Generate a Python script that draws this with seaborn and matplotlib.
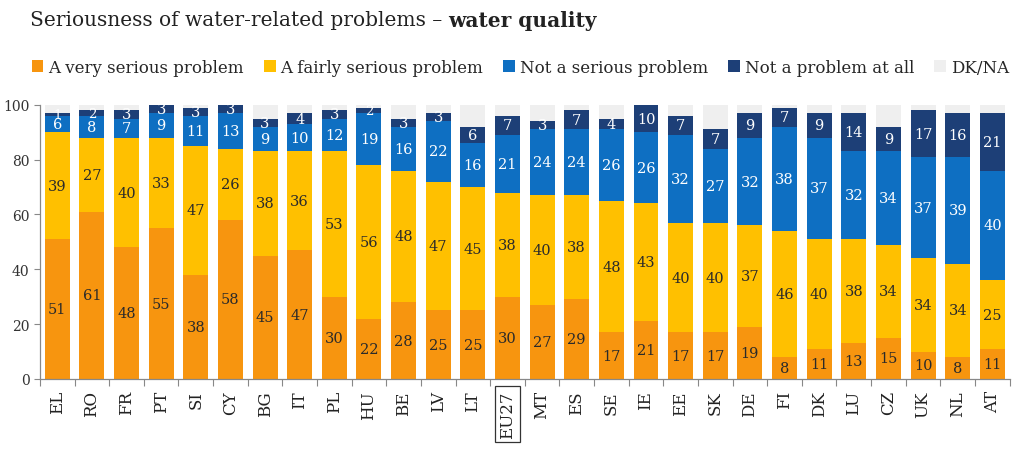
import matplotlib
matplotlib.use("Agg")
import matplotlib.pyplot as plt
import seaborn as sns
import numpy as np
import pandas as pd
from matplotlib.patches import Patch

countries = ["EL", "RO", "FR", "PT", "SI", "CY", "BG", "IT", "PL", "HU", "BE", "LV", "LT", "EU27",
             "MT", "ES", "SE", "IE", "EE", "SK", "DE", "FI", "DK", "LU", "CZ", "UK", "NL", "AT"]
very_serious = [51, 61, 48, 55, 38, 58, 45, 47, 30, 22, 28, 25, 25, 30, 27, 29, 17, 21, 17, 17, 19, 8, 11, 13, 15, 10, 8, 11]
fairly_serious = [39, 27, 40, 33, 47, 26, 38, 36, 53, 56, 48, 47, 45, 38, 40, 38, 48, 43, 40, 40, 37, 46, 40, 38, 34, 34, 34, 25]
not_serious = [6, 8, 7, 9, 11, 13, 9, 10, 12, 19, 16, 22, 16, 21, 24, 24, 26, 26, 32, 27, 32, 38, 37, 32, 34, 37, 39, 40]
not_at_all = [1, 2, 3, 3, 3, 3, 3, 4, 3, 2, 3, 3, 6, 7, 3, 7, 4, 10, 7, 7, 9, 7, 9, 14, 9, 17, 16, 21]
dk_na = [100 - a - b - c - d for a, b, c, d in zip(very_serious, fairly_serious, not_serious, not_at_all)]

series_names = ["A very serious problem", "A fairly serious problem", "Not a serious problem",
                "Not a problem at all", "DK/NA"]
colors = ["#F7950F", "#FFC000", "#0E6FC2", "#1D3F77", "#EFEFEF"]
text_colors = ["#2a2a2a", "#2a2a2a", "white", "white", None]

sns.set_theme(style="white")
plt.rcParams["font.family"] = ["DejaVu Serif"]

series = [very_serious, fairly_serious, not_serious, not_at_all, dk_na]
df = pd.DataFrame({"country": countries})
cum = np.zeros(len(countries))
cums = []
for s in series:
    bottom = cum.copy()
    cum = cum + np.array(s)
    cums.append((bottom, cum.copy()))

fig = plt.figure(figsize=(10.24, 4.6), dpi=100)
ax = fig.add_axes([0.039, 0.174, 0.947, 0.596])

# draw cumulative bars from tallest to shortest
for i in reversed(range(len(series))):
    df["val"] = cums[i][1]
    sns.barplot(data=df, x="country", y="val", color=colors[i], width=0.72,
                saturation=1, ax=ax, order=countries, linewidth=0, edgecolor="none")

# value labels
for i in range(4):
    bottom, top = cums[i]
    for j in range(len(countries)):
        v = series[i][j]
        ax.text(j, (bottom[j] + top[j]) / 2, str(v), ha="center", va="center",
                fontsize=10.5 if v > 2 else 9.5, color=text_colors[i])

ax.set_ylim(0, 100)
ax.set_xlim(-0.5, len(countries) - 0.5)
ax.set_xlabel("")
ax.set_ylabel("")
ax.set_yticks([0, 20, 40, 60, 80, 100])
ax.tick_params(axis="y", labelsize=10, length=4, width=0.8, direction="out", left=True, colors="#888888")
for lab in ax.get_yticklabels():
    lab.set_color("#333333")
ax.set_xticks(range(len(countries)))
ax.set_xticklabels(countries, rotation=90, fontsize=12, color="#222222")
ax.tick_params(axis="x", length=0, pad=8)
ax.set_xticks(np.arange(-0.5, len(countries), 1), minor=True)
ax.tick_params(axis="x", which="minor", length=5, width=0.8, color="#888888", direction="out", bottom=True)
for lab in ax.get_xticklabels():
    if lab.get_text() == "EU27":
        lab.set_bbox(dict(boxstyle="square,pad=0.25", facecolor="white", edgecolor="#333333", linewidth=0.9))

for sp in ["top", "right"]:
    ax.spines[sp].set_visible(False)
for sp in ["left", "bottom"]:
    ax.spines[sp].set_color("#888888")
    ax.spines[sp].set_linewidth(0.9)

first = fig.text(0.029, 0.955, "Seriousness of water-related problems – ", fontsize=14.5, color="#222222",
                 ha="left", va="center")
fig.canvas.draw()
r = fig.canvas.get_renderer()
bb = first.get_window_extent(renderer=r)
x_next = bb.x1 / fig.bbox.width
fig.text(x_next, 0.955, "water quality", fontsize=14.5, fontweight="bold", color="#222222",
         ha="left", va="center")

handles = [Patch(facecolor=c, edgecolor="none") for c in colors]
fig.legend(handles, series_names, loc="center left", bbox_to_anchor=(0.031, 0.852), ncol=5,
           frameon=False, fontsize=12, handlelength=0.7, handleheight=0.7, handletextpad=0.3,
           columnspacing=1.2, borderaxespad=0, borderpad=0)

fig.savefig("out.png", dpi=100)
